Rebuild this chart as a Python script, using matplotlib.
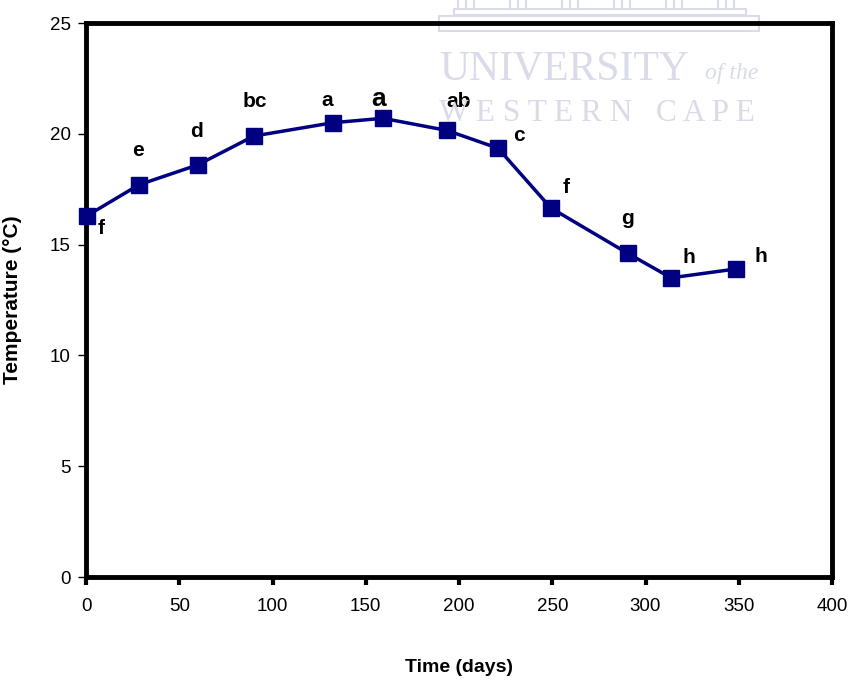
import matplotlib.pyplot as plt
from matplotlib.patches import Rectangle

# mean temperature per sampling day, with significance letters
days = [0.5, 28.4, 60, 90, 132.4, 159.2, 193.6, 220.9, 249.3, 290.6, 313.7, 348.5]
temp = [16.3, 17.7, 18.6, 19.9, 20.5, 20.7, 20.15, 19.35, 16.65, 14.6, 13.5, 13.9]
letters = ["f", "e", "d", "bc", "a", "a", "ab", "c", "f", "g", "h", "h"]

# label offsets in points (dx, dy) from each marker
offs = [(10, -9), (-1, 25), (-1, 24), (1, 25), (-4, 16), (-3, 14), (8, 21), (15, 9), (11, 15), (0, 25), (13, 15), (18, 9)]

plt.rcParams['font.family'] = ['Liberation Sans', 'DejaVu Sans']

fig = plt.figure(figsize=(8.48, 6.8), dpi=100)
ax = fig.add_axes([86 / 848, 1 - 577 / 680, 746 / 848, 554 / 680])


def px(x, y):
    return x / 848, 1 - y / 680


# faint watermark behind the chart
wm = '#d9dbe8'
fig.text(*px(439, 80), "UNIVERSITY", fontsize=30, family='Liberation Serif',
         color=wm, zorder=0)
fig.text(*px(705, 79), "of the", fontsize=17, family='Liberation Serif',
         style='italic', color=wm, zorder=0)
fig.text(*px(439, 121), "W E S T E R N   C A P E", fontsize=22.5,
         family='Liberation Serif', color=wm, zorder=0)
# building outline: column groups and two steps
for xb in [458, 510, 562, 614, 666, 718]:
    for k in range(3):
        x0, y0 = px(xb + 8 * k, 9)
        fig.add_artist(plt.Line2D([x0, x0], [y0, 1], color=wm, lw=1.5, zorder=0))
fig.add_artist(Rectangle(px(454, 15), 292 / 848, 6 / 680, fill=False, ec=wm, lw=1.5, zorder=0))
fig.add_artist(Rectangle(px(439, 31), 320 / 848, 15 / 680, fill=False, ec=wm, lw=1.5, zorder=0))
ax.patch.set_alpha(0)

ax.plot(days, temp, color='#000080', lw=2.5, marker='s', ms=12, clip_on=False, zorder=5)
for i in range(len(days)):
    fs = 19 if i == 5 else 15
    ax.annotate(letters[i], (days[i], temp[i]), xytext=offs[i], textcoords='offset points',
                ha='center', va='center', fontsize=fs, fontweight='bold')

ax.set_xlim(0, 400)
ax.set_ylim(0, 25)
ax.set_xticks(range(0, 401, 50))
ax.set_yticks(range(0, 26, 5))
for s in ax.spines.values():
    s.set_linewidth(3.5)
ax.tick_params(axis='x', direction='out', length=6, width=3, labelsize=13.5, pad=9)
ax.tick_params(axis='y', direction='out', length=6, width=1, labelsize=13.5, pad=5)

ax.set_xlabel("Time (days)", fontsize=14, fontweight='bold', labelpad=32)
ax.set_ylabel("Temperature (°C)", fontsize=15, fontweight='bold', labelpad=20)

fig.savefig("out.png", dpi=100)
